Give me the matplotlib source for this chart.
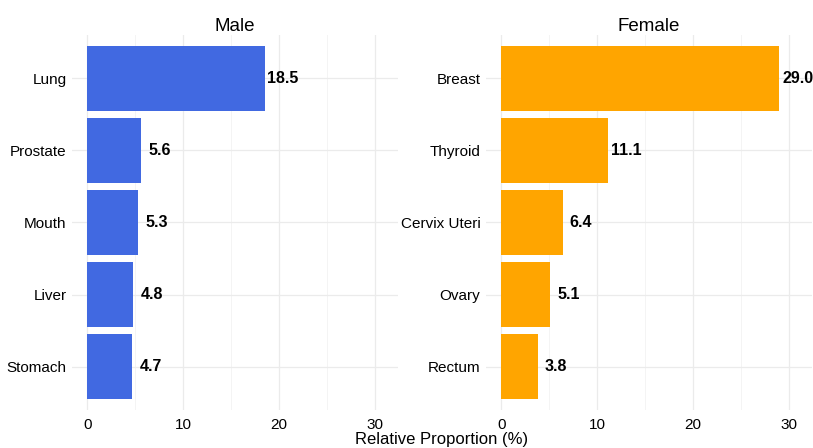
import matplotlib.pyplot as plt

male_sites = ['Lung', 'Prostate', 'Mouth', 'Liver', 'Stomach']
male_vals = [18.5, 5.6, 5.3, 4.8, 4.7]
female_sites = ['Breast', 'Thyroid', 'Cervix Uteri', 'Ovary', 'Rectum']
female_vals = [29.0, 11.1, 6.4, 5.1, 3.8]
x_ticks = [0, 10, 20, 30]

plt.rcParams['font.family'] = ['Liberation Sans', 'DejaVu Sans']

fig = plt.figure(figsize=(8.13, 4.48), dpi=100)
ax1 = fig.add_axes([72 / 813, 38 / 448, 326 / 813, 375 / 448])
ax2 = fig.add_axes([486 / 813, 38 / 448, 326 / 813, 375 / 448])


def panel(ax, sites, vals, color, title):
    pos = list(range(len(sites), 0, -1))
    ax.barh(pos, vals, height=0.9, color=color, zorder=2)
    for p, v in zip(pos, vals):
        ax.text(v + 1.9, p, f'{v:.1f}', ha='center', va='center',
                fontsize=11.5, fontweight='bold', color='black', zorder=3)
    ax.set_xlim(-1.6, 32.4)
    ax.set_ylim(0.4, 5.6)
    ax.set_yticks(pos)
    ax.set_yticklabels(sites)
    ax.set_xticks(x_ticks)
    ax.set_xticks([5, 15, 25], minor=True)
    ax.grid(which='major', color='#EBEBEB', linewidth=0.9, zorder=0)
    ax.grid(which='minor', axis='x', color='#F2F2F2', linewidth=0.6, zorder=0)
    for s in ax.spines.values():
        s.set_visible(False)
    ax.tick_params(which='both', length=0, labelsize=11, colors='#4D4D4D',
                   labelcolor='black')
    ax.tick_params(axis='x', pad=6)
    ax.tick_params(axis='y', pad=4)
    ax.set_title(title, fontsize=13.5, pad=3)


panel(ax1, male_sites, male_vals, '#4169E1', 'Male')
panel(ax2, female_sites, female_vals, '#FFA500', 'Female')

fig.text(441.5 / 813, 4 / 448, 'Relative Proportion (%)', ha='center',
         va='baseline', fontsize=12)

fig.savefig('out.png', dpi=100, facecolor='white')
